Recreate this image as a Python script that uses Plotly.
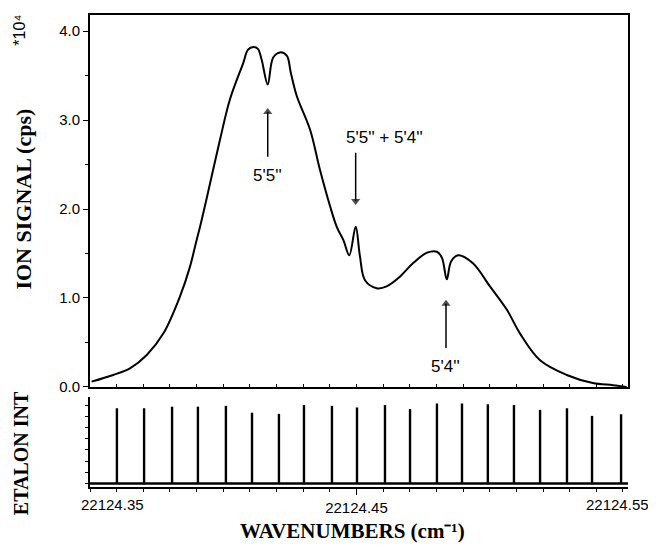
import plotly.graph_objects as go

# ---- Data ----
wavenumber = [22124.3506, 22124.3587, 22124.3650, 22124.3713, 22124.3775, 22124.3838,
              22124.3875, 22124.3900, 22124.3913, 22124.3938, 22124.3988, 22124.4025,
              22124.4075, 22124.4093, 22124.4113, 22124.4130, 22124.4144, 22124.4167,
              22124.4187, 22124.4213, 22124.4239, 22124.4253, 22124.4276, 22124.4326,
              22124.4363, 22124.4401, 22124.4426, 22124.4451, 22124.4473, 22124.4497,
              22124.4513, 22124.4532, 22124.4576, 22124.4613, 22124.4663, 22124.4712,
              22124.4765, 22124.4802, 22124.4821, 22124.4839, 22124.4855, 22124.4882,
              22124.4937, 22124.5001, 22124.5064, 22124.5114, 22124.5189, 22124.5289,
              22124.5387, 22124.5463, 22124.5514]
ion_signal = [0.06, 0.135, 0.21, 0.36, 0.60, 1.02, 1.35, 1.65, 1.80, 2.12, 2.78,
              3.23, 3.64, 3.79, 3.82, 3.80, 3.68, 3.40, 3.70, 3.76, 3.72,
              3.54, 3.27, 2.89, 2.44, 2.03, 1.80, 1.65, 1.48, 1.80, 1.47,
              1.20, 1.11, 1.13, 1.24, 1.39, 1.51, 1.52, 1.45, 1.21, 1.41,
              1.48, 1.39, 1.13, 0.87, 0.60, 0.30, 0.135, 0.045, 0.02, 0.0]

etalon_pos = [22124.3601, 22124.3703, 22124.3808, 22124.3905, 22124.4010,
              22124.4108, 22124.4209, 22124.4303, 22124.4408, 22124.4502,
              22124.4607, 22124.4701, 22124.4802, 22124.4896, 22124.4993,
              22124.5091, 22124.5189, 22124.5290, 22124.5384, 22124.5493]
etalon_int = [0.94, 0.94, 0.96, 0.96, 0.97, 0.885, 0.87, 0.98, 0.97, 0.95,
              0.98, 0.93, 1.0, 1.0, 0.99, 0.98, 0.92, 0.94, 0.845, 0.865]

y_tickvals = [0, 1, 2, 3, 4]
y_ticktext = ["0.0", "1.0", "2.0", "3.0", "4.0"]
x_tickvals = [22124.35, 22124.45, 22124.55]
x_ticktext = ["22124.35", "22124.45", "22124.55"]

# arrows: (x, tail y, head y, head symbol)
arrows = [
    (22124.4167, 2.587, 3.09, "triangle-up"),
    (22124.4497, 2.632, 2.09, "triangle-down"),
    (22124.4836, 0.439, 0.934, "triangle-up"),
]
# labels: (text, x, y)
labels = [
    ("5'5''", 22124.4167, 2.373),
    ("5'5'' + 5'4''", 22124.4605, 2.80),
    ("5'4''", 22124.4833, 0.225),
]

X_RANGE = [22124.35, 22124.5519]
SANS = "Liberation Sans"
SERIF = "Liberation Serif"

fig = go.Figure()

fig.add_trace(go.Scatter(x=wavenumber, y=ion_signal, mode="lines",
                         line=dict(color="black", width=2, shape="spline", smoothing=1.0),
                         xaxis="x", yaxis="y", showlegend=False, hoverinfo="skip"))

for ax_x, tail, head, sym in arrows:
    fig.add_trace(go.Scatter(x=[ax_x, ax_x], y=[tail, head], mode="lines+markers",
                             line=dict(color="black", width=1.5),
                             marker=dict(symbol=["circle", sym], size=[0, 8], color="black",
                                         line=dict(width=0)),
                             xaxis="x", yaxis="y", showlegend=False, hoverinfo="skip"))

# etalon baseline
fig.add_trace(go.Scatter(x=[X_RANGE[0], X_RANGE[1]], y=[0, 0], mode="lines",
                         line=dict(color="black", width=2.5),
                         xaxis="x2", yaxis="y2", showlegend=False, hoverinfo="skip"))
# etalon fringes
ex, ey = [], []
for p, h in zip(etalon_pos, etalon_int):
    ex += [p, p, None]
    ey += [0, h, None]
fig.add_trace(go.Scatter(x=ex, y=ey, mode="lines", line=dict(color="black", width=2.4),
                         xaxis="x2", yaxis="y2", showlegend=False, hoverinfo="skip"))

annotations = []
for text, lx, ly in labels:
    annotations.append(dict(x=lx, y=ly, xref="x", yref="y", text=text, showarrow=False,
                            font=dict(family=SANS, size=17, color="black")))

annotations += [
    dict(x=-0.1236, y=0.610, xref="paper", yref="paper", text="<b>ION SIGNAL (cps)</b>",
         textangle=-90, showarrow=False, xanchor="center", yanchor="middle",
         font=dict(family=SERIF, size=22, color="black")),
    dict(x=-0.127, y=0.071, xref="paper", yref="paper", text="<b>ETALON INT</b>",
         textangle=-90, showarrow=False, xanchor="center", yanchor="middle",
         font=dict(family=SERIF, size=20, color="black")),
    dict(x=-0.131, y=0.968, xref="paper", yref="paper", text="*10⁴",
         textangle=-90, showarrow=False, xanchor="center", yanchor="middle",
         font=dict(family=SANS, size=16, color="black")),
    dict(x=0.4888, y=-0.093, xref="paper", yref="paper",
         text="<b>WAVENUMBERS (cm⁻¹)</b>", showarrow=False,
         xanchor="center", yanchor="middle",
         font=dict(family=SERIF, size=21, color="black")),
    dict(x=22124.3584, y=-0.0361, xref="x2", yref="paper", text=x_ticktext[0],
         showarrow=False, xanchor="center", yanchor="middle",
         font=dict(family=SANS, size=15, color="black")),
    dict(x=22124.5478, y=-0.0361, xref="x2", yref="paper", text=x_ticktext[2],
         showarrow=False, xanchor="center", yanchor="middle",
         font=dict(family=SANS, size=15, color="black")),
]

# the page body adds an 8 px margin, so the figure is 8 px smaller than the window
fig.update_layout(
    width=648, height=539,
    margin=dict(l=82, r=28, t=7, b=60),
    paper_bgcolor="white", plot_bgcolor="white",
    annotations=annotations,
    xaxis=dict(domain=[0, 1], anchor="y", range=X_RANGE, showgrid=False, zeroline=False,
               showline=True, linecolor="black", linewidth=1.5, mirror=True,
               ticks="inside", tick0=22124.35, dtick=0.01, ticklen=3, tickcolor="black",
               showticklabels=False, automargin=False),
    yaxis=dict(domain=[0.2119, 1], anchor="x", range=[0, 4.18], showgrid=False,
               zeroline=False, showline=True, linecolor="black", linewidth=2, mirror=True,
               ticks="outside", ticklen=5, tickcolor="black", tickvals=y_tickvals,
               ticktext=y_ticktext, tickfont=dict(family=SANS, size=15, color="black"),
               minor=dict(ticks="outside", ticklen=3, dtick=0.5, tickcolor="black"),
               automargin=False),
    xaxis2=dict(domain=[0, 1], anchor="y2", range=X_RANGE, showgrid=False, zeroline=False,
                showline=True, linecolor="black", linewidth=2,
                ticks="outside", ticklen=6, tickcolor="black", tickvals=[x_tickvals[1]],
                ticktext=[x_ticktext[1]],
                tickfont=dict(family=SANS, size=15, color="black"),
                minor=dict(ticks="outside", ticklen=3, tick0=22124.35, dtick=0.01,
                           tickcolor="black"),
                automargin=False),
    yaxis2=dict(domain=[0, 0.1907], anchor="x2", range=[-0.044, 1.081], showgrid=False,
                zeroline=False, showline=True, linecolor="black", linewidth=1.5,
                ticks="outside", ticklen=3, dtick=0.14, tick0=0, tickcolor="black",
                showticklabels=False, automargin=False),
)

fig.write_html("out.html")
